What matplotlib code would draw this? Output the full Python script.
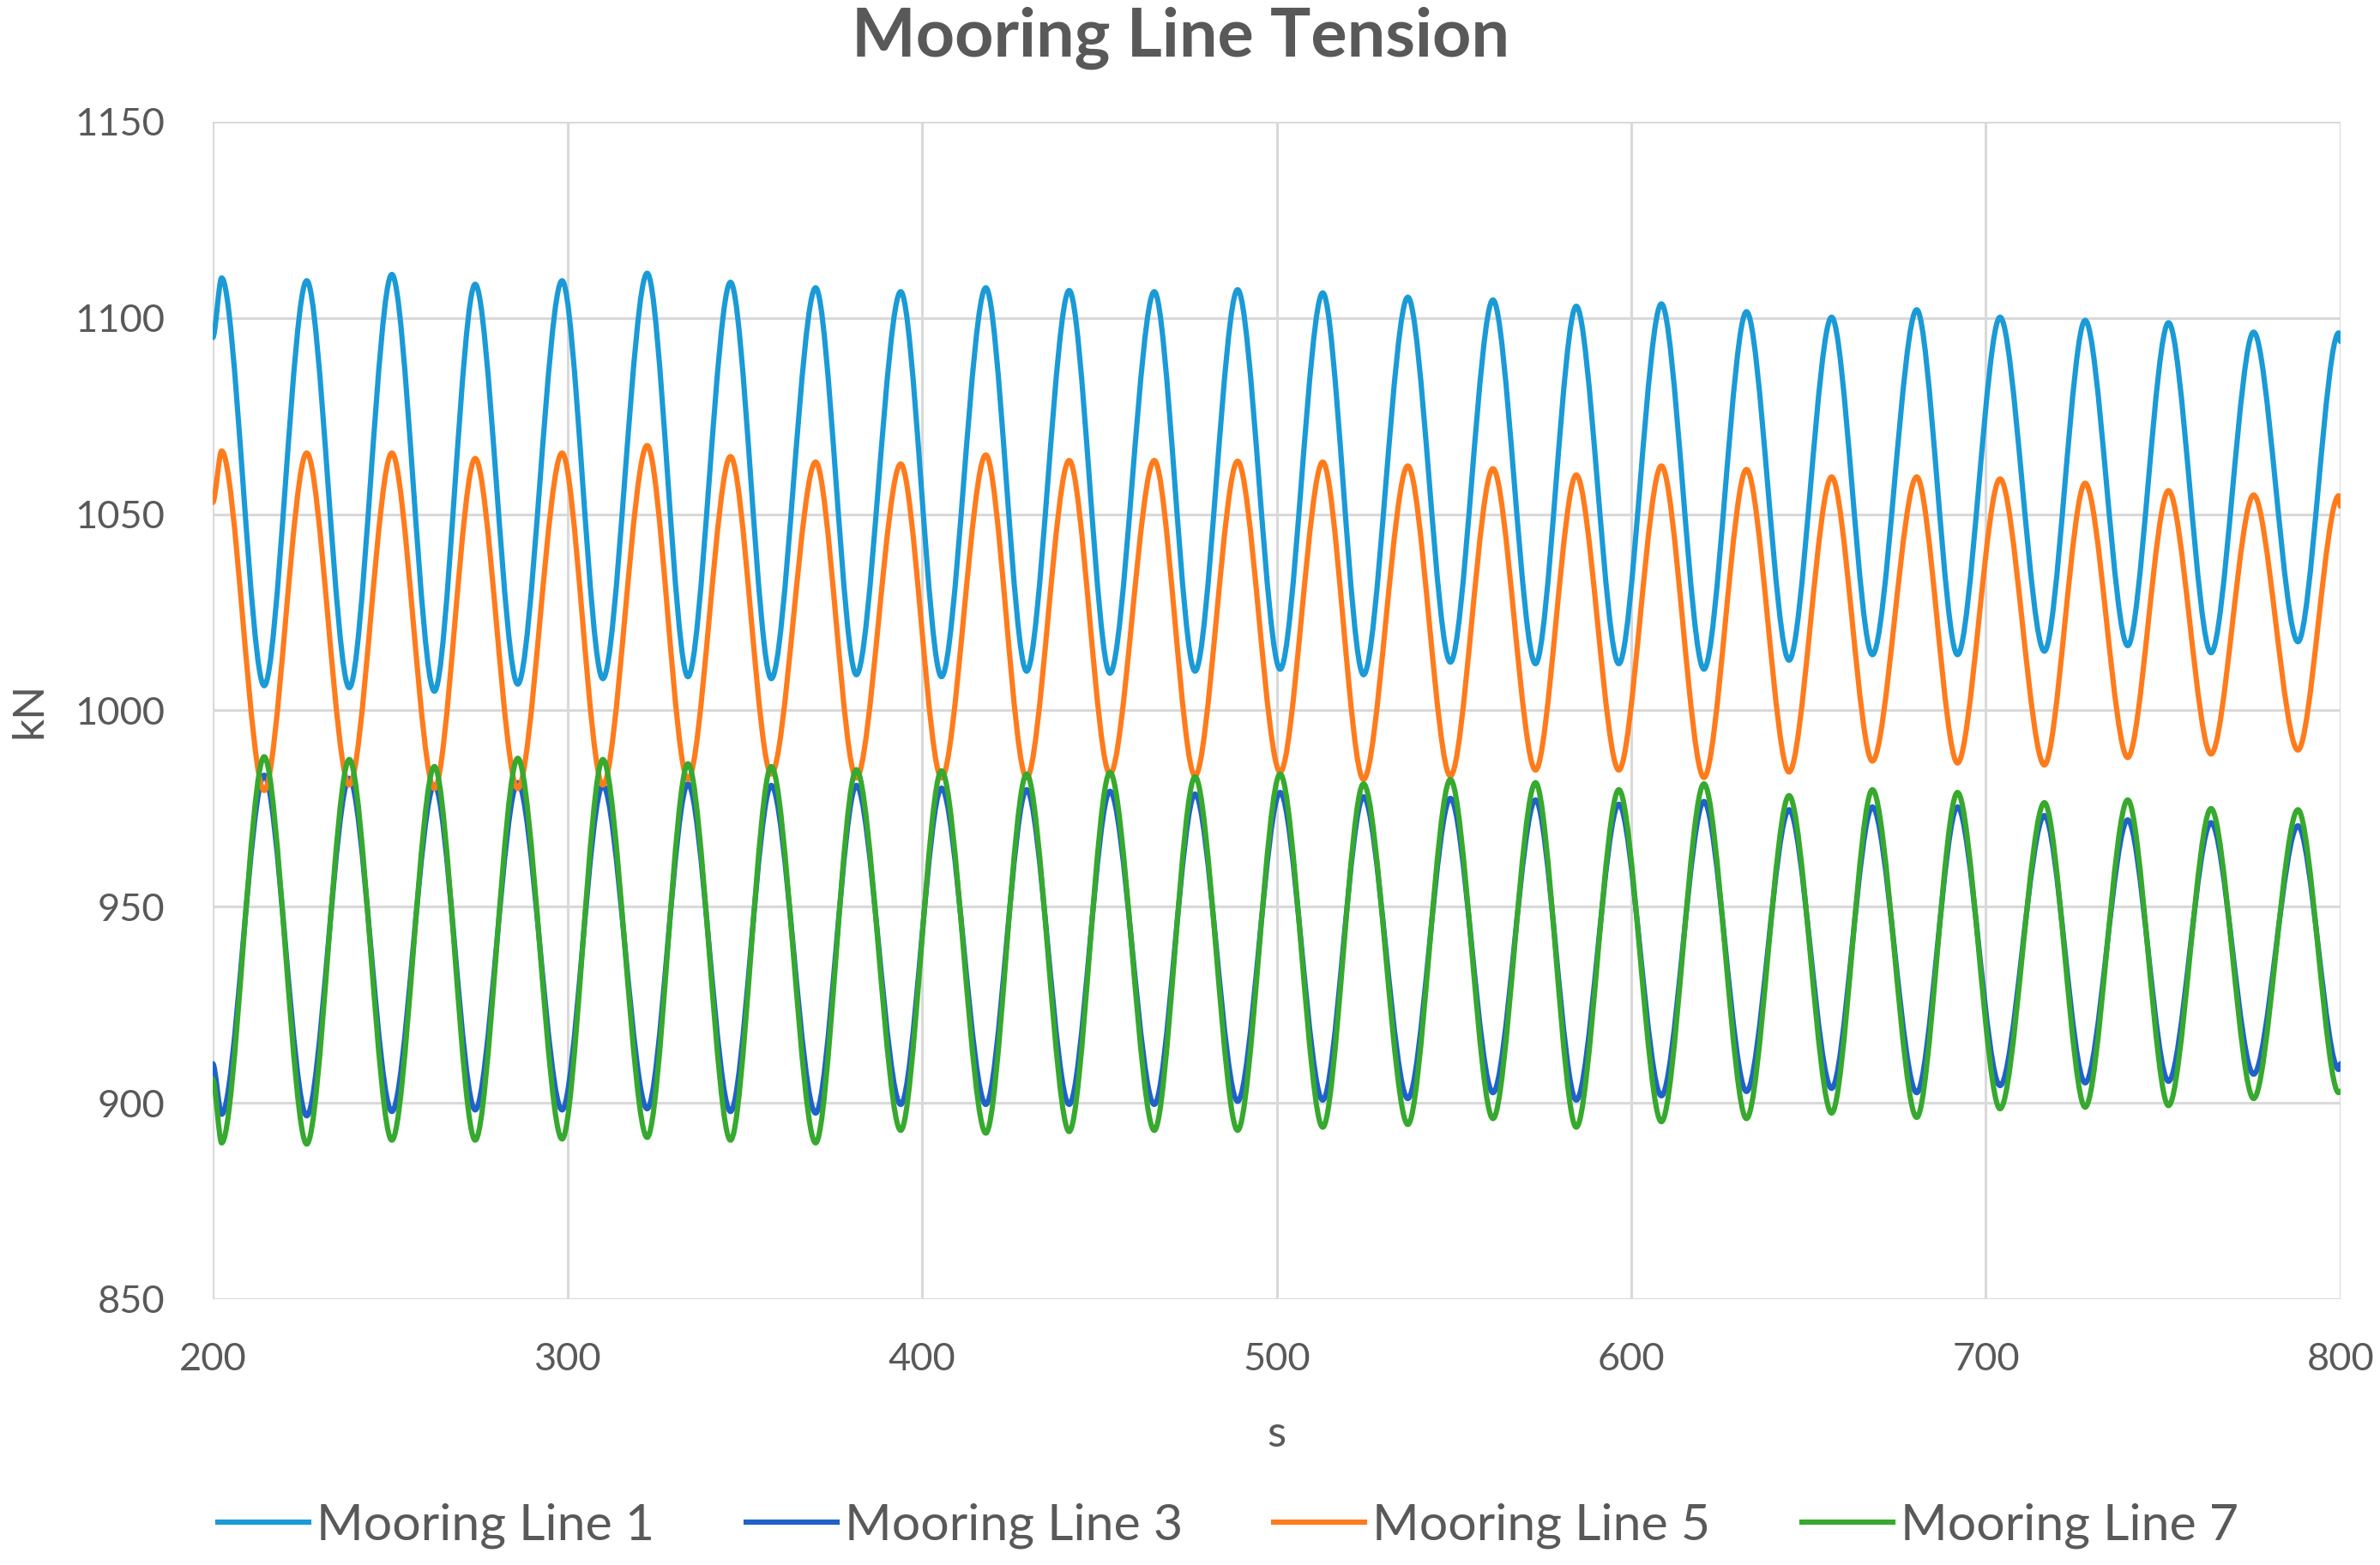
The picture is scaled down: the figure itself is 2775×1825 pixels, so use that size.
import matplotlib
matplotlib.use('Agg')
import matplotlib.pyplot as plt
from matplotlib.path import Path
from matplotlib.patches import PathPatch
from matplotlib.lines import Line2D

plt.rcParams['font.family'] = ['Lato', 'DejaVu Sans']

# time window shown
t_start, t_end = 200, 800

# times (s) where lines 1/5 crest and lines 3/7 bottom out
t_crest = [202.5, 226.5, 250.5, 274, 298.5, 322.5, 346, 370, 394, 418,
           441.5, 465.5, 489, 513, 537, 561, 584.5, 608.5, 632.5, 656.5,
           680.5, 704, 728, 751.5, 775.5, 799.5]
# times (s) where lines 1/5 bottom out and lines 3/7 crest
t_dip = [214.5, 238.5, 262.5, 286, 310, 334, 357.5, 381.5, 405.5, 429.5,
         453, 477, 501, 524.5, 549, 573, 596.5, 620.5, 644.5, 668,
         692, 716.5, 740, 763.5, 788]

# Mooring Line 1 (kN)
line1_crest = [1110.2, 1109.5, 1111.1, 1108.6, 1109.5, 1111.4, 1109.1, 1107.7, 1106.7, 1107.7,
               1107.0, 1106.7, 1107.2, 1106.4, 1105.3, 1104.6, 1103.0, 1103.6, 1101.6, 1100.2,
               1102.1, 1100.2, 1099.4, 1098.8, 1096.4, 1096.2]
line1_dip = [1006.3, 1005.8, 1004.9, 1006.7, 1008.1, 1008.6, 1008.1, 1009.1, 1008.6, 1010.0,
             1009.5, 1010.0, 1010.5, 1009.1, 1012.3, 1011.9, 1011.9, 1010.5, 1012.8, 1014.2,
             1014.2, 1015.1, 1016.5, 1014.7, 1017.5]
# Mooring Line 5 (kN)
line5_crest = [1066.1, 1065.6, 1065.6, 1064.2, 1065.6, 1067.5, 1064.7, 1063.3, 1062.8, 1065.1,
               1063.7, 1063.7, 1063.5, 1063.3, 1062.3, 1061.6, 1060.0, 1062.3, 1061.4, 1059.5,
               1059.5, 1059.0, 1057.9, 1056.0, 1054.9, 1054.7]
line5_dip = [979.6, 981.0, 980.1, 980.1, 981.0, 982.4, 983.8, 982.8, 982.8, 982.8,
             983.8, 983.3, 984.3, 982.4, 983.3, 984.8, 984.8, 982.9, 984.3, 987.1,
             986.6, 986.1, 988.0, 988.9, 989.9]
# Mooring Line 3 (kN): lows at t_crest, highs at t_dip
line3_crest = [897.1, 896.7, 897.8, 898.2, 898.2, 898.5, 897.8, 897.4, 899.6, 899.6,
               899.6, 899.6, 900.4, 900.7, 901.1, 902.6, 900.7, 901.8, 902.9, 903.7,
               902.6, 904.4, 905.1, 905.5, 907.3, 908.5]
line3_dip = [983.5, 982.7, 981.0, 981.6, 980.9, 981.3, 980.9, 980.9, 980.2, 979.8,
             979.4, 978.7, 979.1, 978.0, 977.6, 977.2, 976.1, 976.8, 974.7, 975.4,
             975.4, 973.2, 972.1, 971.4, 970.6]
# Mooring Line 7 (kN): lows at t_crest, highs at t_dip
line7_crest = [889.8, 889.5, 890.5, 890.5, 890.8, 891.2, 890.5, 889.8, 893.0, 892.3,
               892.7, 893.0, 893.0, 893.8, 894.5, 896.0, 893.8, 895.2, 896.0, 897.4,
               896.3, 898.5, 898.9, 899.3, 901.1, 902.6]
line7_dip = [988.2, 987.5, 985.7, 987.8, 987.5, 986.4, 985.7, 984.9, 984.6, 983.8,
             984.2, 983.1, 983.8, 981.3, 982.4, 981.6, 979.8, 981.3, 978.3, 979.8,
             979.1, 976.5, 977.2, 975.0, 974.7]

# values at the window edges
line1_ends = [1095, 1094]
line3_ends = [910, 910]
line5_ends = [1053, 1052]
line7_ends = [906, 903]

labels = ['Mooring Line 1', 'Mooring Line 3', 'Mooring Line 5', 'Mooring Line 7']
colors = ['#1A9AD6', '#1F62C8', '#FF7B1C', '#36A92E']


def merge(a, b, ends):
    out = [ends[0]]
    for i in range(len(b)):
        out += [a[i], b[i]]
    out += [a[-1], ends[1]]
    return out


def wave_path(x, y, f=0.31):
    # smooth curve through the extrema, flat at every turning point
    verts = [(x[0], y[0])]
    codes = [Path.MOVETO]
    for x0, y0, x1, y1 in zip(x[:-1], y[:-1], x[1:], y[1:]):
        dx = x1 - x0
        verts += [(x0 + f * dx, y0), (x1 - f * dx, y1), (x1, y1)]
        codes += [Path.CURVE4] * 3
    return Path(verts, codes)


times = merge(t_crest, t_dip, [t_start, t_end])
series = [
    merge(line1_crest, line1_dip, line1_ends),
    merge(line3_crest, line3_dip, line3_ends),
    merge(line5_crest, line5_dip, line5_ends),
    merge(line7_crest, line7_dip, line7_ends),
]

fig = plt.figure(figsize=(27.75, 18.25), dpi=100)
ax = fig.add_axes([0.0894, 0.1699, 0.8940, 0.7523])

lw = 4.4
for vals, color in zip(series, colors):
    patch = PathPatch(wave_path(times, vals), facecolor='none', edgecolor=color,
                      linewidth=lw, capstyle='round', joinstyle='round',
                      transform=ax.transData)
    ax.add_patch(patch)

ax.set_xlim(200, 800)
ax.set_ylim(850, 1150)
ax.set_xticks(range(200, 801, 100))
ax.set_yticks(range(850, 1151, 50))
ax.grid(True, color='#D9D9D9', linewidth=2.2)
ax.set_axisbelow(True)
for side in ['top', 'right', 'left', 'bottom']:
    ax.spines[side].set_visible(False)
ax.tick_params(length=0, labelsize=32.5, colors='#595959')
ax.tick_params(axis='y', pad=40)
ax.tick_params(axis='x', pad=36)

ax.set_xlabel('s', fontsize=37, color='#595959', labelpad=32)
ax.set_ylabel('kN', fontsize=37, color='#595959', labelpad=22)
fig.suptitle('Mooring Line Tension', x=0.496, y=0.996, fontsize=57,
             fontweight='bold', color='#595959', va='top')

handles = [Line2D([], [], color=c, linewidth=lw) for c in colors]
fig.legend(handles, labels, loc='center', bbox_to_anchor=(0.516, 0.025),
           ncol=4, frameon=False, fontsize=42.5, labelcolor='#595959',
           handlelength=1.8, handletextpad=0.15, columnspacing=1.8)

fig.savefig('out.png', dpi=100)
